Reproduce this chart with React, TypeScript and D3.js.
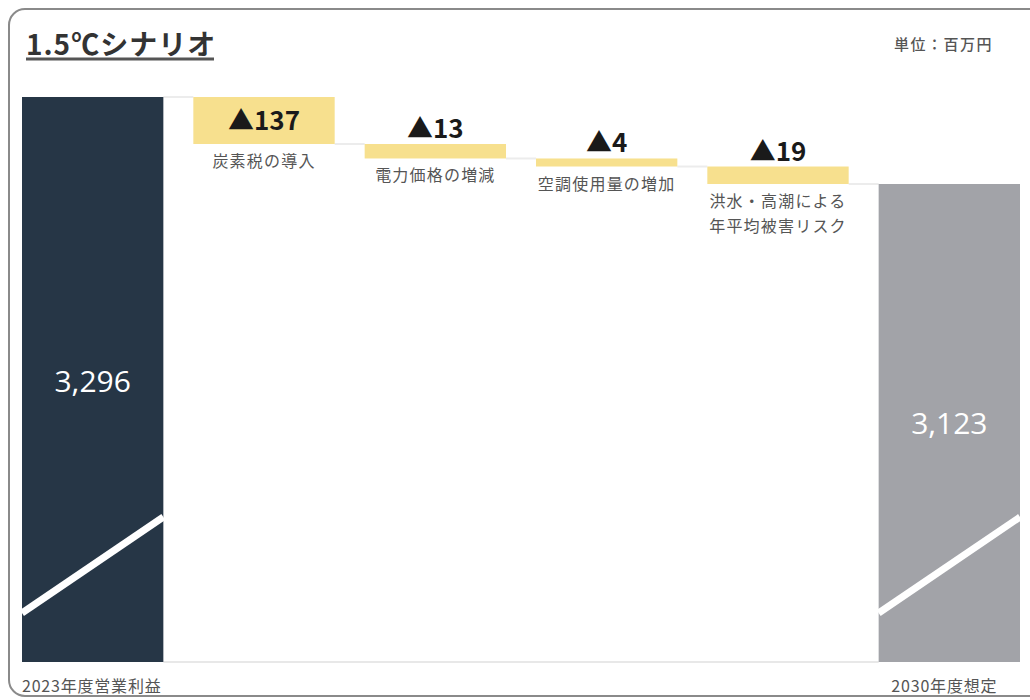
import React from "react";
import * as d3 from "d3";

const title = "1.5℃シナリオ";
const unitLabel = "単位：百万円";
const startLabel = "2023年度営業利益";
const endLabel = "2030年度想定";
const startValue = 3296;
const deltaLabels: string[][] = [
  ["炭素税の導入"],
  ["電力価格の増減"],
  ["空調使用量の増加"],
  ["洪水・高潮による", "年平均被害リスク"],
];
const deltaValues = [137, 13, 4, 19];
const endValue = 3123;

const W = 1030;
const H = 700;
const FONT_JP = "'Noto Sans CJK JP', 'Noto Sans', sans-serif";
const FONT_NUM = "'Open Sans', 'Noto Sans', sans-serif";

export default function App() {
  const keys = ["start", ...deltaValues.map((_, i) => "d" + i), "end"];
  const x = d3.scaleBand<string>().domain(keys).range([22, 1020]).paddingInner(0.175).paddingOuter(0);
  const bw = x.bandwidth();
  const top = 97;
  const base = 662;
  // visual heights of the steps (square-root compressed, broken axis)
  const h = d3.scaleSqrt().domain([0, d3.max(deltaValues) as number]).range([0, 47]);

  let cur = top;
  const steps = deltaValues.map((v, i) => {
    const y0 = cur;
    const y1 = cur + h(v);
    cur = y1;
    return { key: "d" + i, v, y0, y1, labels: deltaLabels[i] };
  });
  const endTop = cur;

  const fmt = d3.format(",");
  const breakY = 565;
  const bars = [
    { key: "start", y: top, color: "#263646", value: startValue, ty: 392 },
    { key: "end", y: endTop, color: "#A2A3A8", value: endValue, ty: 434 },
  ];

  const connectors: { x1: number; x2: number; y: number }[] = [];
  const boundaries = [top, ...steps.map((s) => s.y1)];
  boundaries.forEach((y, i) => {
    const k1 = keys[i];
    const k2 = keys[i + 1];
    connectors.push({ x1: (x(k1) as number) + bw, x2: x(k2) as number, y });
  });

  return (
    <svg width={W} height={H} style={{ position: "absolute", left: 0, top: 0, background: "#fff" }}>
      <rect x={9} y={9} width={1040} height={687} rx={16} fill="#fff" stroke="#8a8a8a" strokeWidth={2} />
      <text x={26} y={55} fontFamily={FONT_JP} fontWeight={700} fontSize={28} fill="#333" letterSpacing={1}>
        {title}
      </text>
      <line x1={26} x2={214} y1={59} y2={59} stroke="#555" strokeWidth={3} />
      <text x={993} y={50} textAnchor="end" fontFamily={FONT_JP} fontSize={15} fontWeight={500} fill="#555" letterSpacing={1.5}>
        {unitLabel}
      </text>

      <line x1={(x("start") as number) + bw} x2={x("end") as number} y1={base} y2={base} stroke="#e8e8e8" strokeWidth={2} />
      {connectors.map((c, i) => (
        <line key={i} x1={c.x1} x2={c.x2} y1={c.y} y2={c.y} stroke="#ececec" strokeWidth={2} />
      ))}

      {bars.map((b) => {
        const bx = x(b.key) as number;
        return (
          <g key={b.key}>
            <rect x={bx} y={b.y} width={bw} height={base - b.y} fill={b.color} />
            <line x1={bx} x2={bx + bw} y1={breakY + 48} y2={breakY - 48} stroke="#fff" strokeWidth={7} />
            <text x={bx + bw / 2} y={b.ty} textAnchor="middle" fontFamily={FONT_NUM} fontSize={30} fill="#fff">
              {fmt(b.value)}
            </text>
          </g>
        );
      })}

      {steps.map((s) => {
        const bx = x(s.key) as number;
        const hh = s.y1 - s.y0;
        const inside = hh > 35;
        return (
          <g key={s.key}>
            <rect x={bx} y={s.y0} width={bw} height={hh} fill="#F7E08E" />
            <text
              x={bx + bw / 2}
              y={inside ? (s.y0 + s.y1) / 2 + 9 : s.y0 - 6}
              textAnchor="middle"
              fontFamily={FONT_JP}
              fontWeight={600}
              fontSize={26}
              fill="#1a1a1a"
            >
              {"▲" + s.v}
            </text>
            {s.labels.map((l, j) => (
              <text
                key={j}
                x={bx + bw / 2}
                y={s.y1 + 23 + j * 25}
                textAnchor="middle"
                fontFamily={FONT_JP}
                fontSize={16}
                fill="#555"
                letterSpacing={1.2}
              >
                {l}
              </text>
            ))}
          </g>
        );
      })}

      <text x={22} y={692} fontFamily={FONT_JP} fontSize={16} fill="#555" letterSpacing={0.8}>
        {startLabel}
      </text>
      <text x={(x("end") as number) + bw / 2 - 5} y={692} textAnchor="middle" fontFamily={FONT_JP} fontSize={16} fill="#555" letterSpacing={0.8}>
        {endLabel}
      </text>
    </svg>
  );
}
